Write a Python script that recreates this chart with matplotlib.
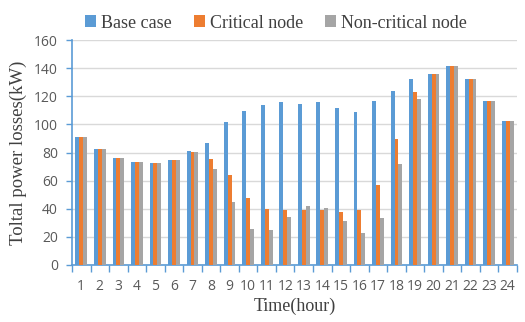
import matplotlib
matplotlib.use("Agg")
import matplotlib.pyplot as plt
import numpy as np

hours = [str(h) for h in range(1, 25)]
base_case = [91.3, 82.7, 76.1, 73.0, 72.8, 74.9, 81.3, 86.5, 101.9, 109.3, 114.0, 116.1,
             114.7, 116.1, 111.9, 108.8, 116.4, 123.5, 132.3, 135.8, 141.7, 132.5, 116.4, 102.6]
critical_node = [91.3, 82.7, 76.1, 73.0, 72.8, 74.9, 80.4, 75.1, 64.0, 47.6, 40.0, 39.1,
                 39.1, 39.3, 37.4, 39.3, 57.1, 89.8, 123.2, 135.6, 141.7, 132.5, 116.4, 102.6]
non_critical_node = [91.3, 82.7, 76.1, 73.0, 72.8, 74.9, 80.1, 68.3, 45.0, 25.8, 25.1, 34.4,
                     42.2, 40.8, 31.5, 23.0, 33.2, 71.8, 118.3, 135.6, 141.7, 132.5, 116.4, 102.6]
y_ticks = [0, 20, 40, 60, 80, 100, 120, 140, 160]

fig = plt.figure(figsize=(5.25, 3.22), dpi=100)
ax = fig.add_axes([72/525, 57/322, 445/525, 225/322])

x = np.arange(len(hours))
w = 0.21
colors = ["#5B9BD5", "#ED7D31", "#A5A5A5"]
ax.bar(x - w, base_case, w, color=colors[0], label="Base case", zorder=3)
ax.bar(x, critical_node, w, color=colors[1], label="Critical node", zorder=3)
ax.bar(x + w, non_critical_node, w, color=colors[2], label="Non-critical node", zorder=3)

ax.set_xlim(-0.5, len(hours) - 0.5)
ax.set_ylim(0, 160)
ax.set_yticks(y_ticks)
ax.set_xticks(x)
ax.set_xticklabels(hours)
ax.set_xticks(np.arange(-0.5, len(hours)), minor=True)
ax.tick_params(axis="x", which="major", length=0, pad=10, labelsize=10, labelcolor="#595959")
ax.tick_params(axis="x", which="minor", length=5, color="#5B9BD5", width=1)
ax.tick_params(axis="y", length=4, color="#5B9BD5", width=1, labelsize=10, labelcolor="#595959", pad=6)
for lab in ax.get_xticklabels() + ax.get_yticklabels():
    lab.set_family("Open Sans")

ax.grid(axis="y", color="#D9D9D9", linewidth=1, zorder=0)
for s in ["top", "right"]:
    ax.spines[s].set_visible(False)
for s in ["left", "bottom"]:
    ax.spines[s].set_color("#5B9BD5")
    ax.spines[s].set_linewidth(1.2)

ax.set_xlabel("Time(hour)", family="Liberation Serif", fontsize=13, color="#404040", labelpad=3)
ax.set_ylabel("Toltal power losses(kW)", family="Liberation Serif", fontsize=13.5, color="#404040", labelpad=5)

leg = fig.legend(loc="center", bbox_to_anchor=(276/525, 1 - 23/322), ncol=3, frameon=False,
                 prop={"family": "Liberation Serif", "size": 13}, handlelength=0.6, handleheight=0.6,
                 handletextpad=0.3, columnspacing=1.2)
for t in leg.get_texts():
    t.set_color("#404040")

fig.savefig("out.png", dpi=100)
